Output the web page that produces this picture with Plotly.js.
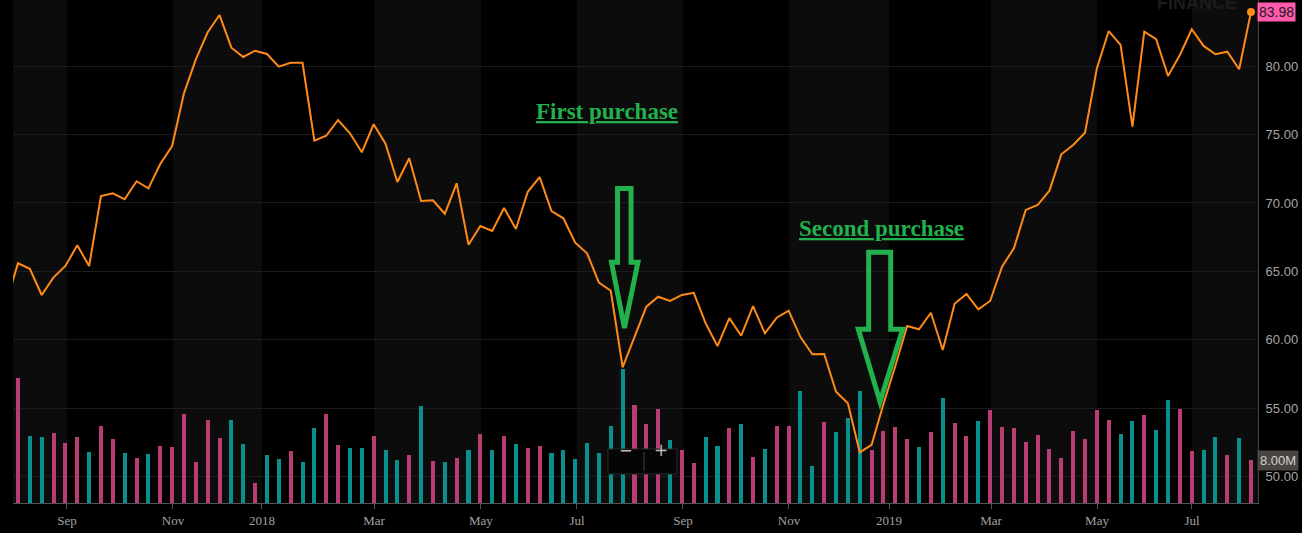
<!DOCTYPE html>
<html><head><meta charset="utf-8">
<script src="https://cdn.plot.ly/plotly-3.0.1.min.js"></script>
<style>html,body{margin:0;padding:0;background:#000;overflow:hidden}#chart{width:1302px;height:533px}</style>
</head><body><div id="chart"></div>
<script>
// weekly closing price; first value is the week before the visible window
const price = [62.66,
 65.59,65.19,63.27,64.56,65.39,66.90,65.39,70.51,70.71,70.27,
 71.59,71.07,72.85,74.17,78.02,80.51,82.49,83.75,81.36,80.68,
 81.14,80.90,79.97,80.26,80.26,74.56,74.92,76.07,75.10,73.71,
 75.76,74.34,71.53,73.27,70.14,70.20,69.21,71.44,66.95,68.31,
 67.95,69.63,68.10,70.82,71.90,69.41,68.88,67.09,66.32,64.17,
 63.58,57.98,60.22,62.41,63.14,62.83,63.27,63.43,61.20,59.53,
 61.58,60.29,62.46,60.46,61.61,62.12,60.19,58.93,58.95,56.19,
 55.34,51.76,52.31,55.29,58.07,61.00,60.76,61.97,59.24,62.63,
 63.34,62.22,62.83,65.34,66.68,69.49,69.85,70.90,73.56,74.24,
 75.14,79.85,82.58,81.56,75.58,82.53,81.98,79.29,80.83,82.71,
 81.49,80.88,81.07,79.78,83.98];
// weekly volume, millions
const volume = [
 23.26,12.47,12.28,13.02,11.16,12.28,9.49,14.33,11.91,9.30,
 8.37,9.12,10.60,10.42,16.56,7.63,15.44,12.09,15.44,10.98,
 3.72,8.93,8.19,9.67,7.63,13.95,16.56,10.79,10.23,10.23,
 12.47,9.86,8.00,8.93,18.05,7.81,7.63,8.37,9.86,12.84,
 9.86,12.47,10.98,10.23,10.60,9.30,9.86,8.19,11.16,9.30,
 14.33,24.93,18.23,14.70,17.49,11.72,9.86,7.44,12.28,10.60,
 13.95,14.70,8.56,10.05,14.33,14.33,20.84,6.88,15.07,13.21,
 15.81,20.84,9.86,13.40,14.14,11.91,10.42,13.21,19.53,14.88,
 12.47,15.26,17.30,14.14,13.95,11.35,12.65,10.05,8.37,13.40,
 11.91,17.30,15.44,12.84,15.26,16.37,13.58,19.16,17.49,9.67,
 9.86,12.28,8.93,12.09,8.00];
// bar direction: u = up week (teal), d = down week (pink)
const volDir = [
 'd','u','u','d','d','d','u','d','d','u',
 'd','u','d','d','d','d','d','d','u','u',
 'd','u','u','d','u','u','d','d','u','u',
 'd','u','u','d','u','d','u','d','u','d',
 'u','d','u','d','d','u','u','u','u','u',
 'u','u','d','d','d','u','d','d','u','u',
 'd','u','d','u','d','d','u','u','d','u',
 'u','u','d','d','d','d','u','d','u','d',
 'd','u','d','d','d','d','d','d','d','d',
 'd','d','d','u','u','d','u','u','d','d',
 'u','u','d','u','d'];
const tickLabels = ['Sep','Nov','2018','Mar','May','Jul','Sep','Nov','2019','Mar','May','Jul'];
const tickPos = [4.13,13.07,20.58,30.03,39.05,47.15,56.09,65.03,73.47,82.07,91.01,99.02];

const X0 = -0.42, X1 = 104.59;
const UP = '#0a8f8f', DOWN = '#b93c74', GREEN = '#22b14c';

const xPrice = price.map((_, i) => i - 1);
const xVol = volume.map((_, i) => i);
const last = price.length - 1;

const traces = [
  { type: 'bar', x: xVol, y: volume, yaxis: 'y', width: 0.34,
    marker: { color: volDir.map(d => d === 'u' ? UP : DOWN), line: { width: 0 } },
    hoverinfo: 'skip', showlegend: false },
  { type: 'scatter', mode: 'lines', x: xPrice, y: price, yaxis: 'y2',
    line: { color: '#ff8a17', width: 2 }, hoverinfo: 'skip', showlegend: false },
  { type: 'scatter', mode: 'markers', x: [xPrice[last]], y: [price[last]], yaxis: 'y2',
    marker: { color: '#ff8a17', size: 8 }, cliponaxis: false, hoverinfo: 'skip', showlegend: false }
];

// alternating month bands
const edges = [X0].concat(tickPos).concat([X1]);
const shapes = [];
for (let k = 0; k < edges.length - 1; k += 2) {
  shapes.push({ type: 'rect', layer: 'below', xref: 'x', yref: 'paper',
    x0: edges[k], x1: edges[k + 1], y0: 0, y1: 1, fillcolor: '#0c0c0c', line: { width: 0 } });
}
function arrowPath(xl, xr, hl, hr, xt, yTop, yHead, yTip) {
  return `M${xl},${yTop} L${xr},${yTop} L${xr},${yHead} L${hr},${yHead} L${xt},${yTip} L${hl},${yHead} L${xl},${yHead} Z`;
}
shapes.push({ type: 'path', xref: 'x', yref: 'y2', layer: 'above',
  path: arrowPath(50.57, 51.71, 50.06, 52.29, 51.15, 71.06, 65.66, 60.85),
  line: { color: GREEN, width: 5 }, fillcolor: 'rgba(0,0,0,0)' });
shapes.push({ type: 'path', xref: 'x', yref: 'y2', layer: 'above',
  path: arrowPath(71.75, 73.61, 70.88, 74.62, 72.71, 66.39, 60.76, 55.46),
  line: { color: GREEN, width: 5 }, fillcolor: 'rgba(0,0,0,0)' });
// zoom control box (pixel-based via paper coords)
const pw = 1302 - 13 - 44, ph = 503;
const px = v => (v - 13) / pw, py = v => 1 - v / ph;
shapes.push({ type: 'rect', xref: 'paper', yref: 'paper', layer: 'above',
  x0: px(608), x1: px(677), y0: py(474), y1: py(449),
  fillcolor: '#050505', line: { color: '#2a2a2a', width: 1 } });
shapes.push({ type: 'line', xref: 'paper', yref: 'paper', layer: 'above',
  x0: px(644), x1: px(644), y0: py(471), y1: py(452), line: { color: '#444', width: 1 } });

const annotations = [
  { xref: 'x', yref: 'y2', x: 49.64, y: 76.66, text: '<b><u>First purchase</u></b>', showarrow: false,
    font: { family: 'Liberation Serif, serif', size: 23, color: GREEN } },
  { xref: 'x', yref: 'y2', x: 72.87, y: 68.10, text: '<b><u>Second purchase</u></b>', showarrow: false,
    font: { family: 'Liberation Serif, serif', size: 23, color: GREEN } },
  { xref: 'paper', yref: 'y2', x: 1, xanchor: 'left', xshift: -1, y: price[last],
    text: price[last].toFixed(2), showarrow: false, bgcolor: '#ff5aac', borderpad: 1,
    font: { family: 'Liberation Sans, Arial, sans-serif', size: 14, color: '#1a1a1a' } },
  { xref: 'paper', yref: 'y', x: 1, xanchor: 'left', xshift: -1, y: volume[volume.length - 1],
    text: volume[volume.length - 1].toFixed(2) + 'M', showarrow: false, bgcolor: '#4a4540', borderpad: 2,
    font: { family: 'Liberation Sans, Arial, sans-serif', size: 13, color: '#d0d0d0' } },
  { xref: 'paper', yref: 'paper', x: px(1197), xanchor: 'center', y: 1, yanchor: 'top', yshift: 9,
    text: '<b>FINANCE</b>', showarrow: false,
    font: { family: 'Liberation Sans, Arial, sans-serif', size: 18, color: '#1c1c1c' } },
  { xref: 'paper', yref: 'paper', x: px(625.5), y: py(461.5), text: '−', showarrow: false,
    font: { family: 'DejaVu Sans, sans-serif', size: 16, color: '#bbbbbb' } },
  { xref: 'paper', yref: 'paper', x: px(661), y: py(461.5), text: '+', showarrow: false,
    font: { family: 'DejaVu Sans, sans-serif', size: 17, color: '#bbbbbb' } }
];

const layout = {
  width: 1302, height: 533,
  margin: { l: 13, r: 44, t: 0, b: 30, pad: 0 },
  paper_bgcolor: '#000', plot_bgcolor: '#000',
  showlegend: false, bargap: 0,
  xaxis: { range: [X0, X1], tickmode: 'array', tickvals: tickPos, ticktext: tickLabels,
    showgrid: false, zeroline: false, showline: true, linecolor: '#555', linewidth: 1,
    ticks: 'outside', ticklen: 5, tickcolor: '#555',
    tickfont: { family: 'Liberation Serif, Times New Roman, serif', size: 13, color: '#a0a0a0' },
    fixedrange: true },
  yaxis: { range: [0, 93.58], visible: false, fixedrange: true },
  yaxis2: { overlaying: 'y', side: 'right', range: [48.05, 84.85],
    tickmode: 'array', tickvals: [50, 55, 60, 65, 70, 75, 80], tickformat: '.2f',
    showgrid: true, gridcolor: '#1c1c1c', zeroline: false,
    showline: true, linecolor: '#444', ticks: '', ticklabelstandoff: 4,
    tickfont: { family: 'Liberation Sans, Arial, sans-serif', size: 13, color: '#a5a5a5' },
    fixedrange: true },
  shapes: shapes,
  annotations: annotations
};

Plotly.newPlot('chart', traces, layout, { displayModeBar: false, staticPlot: true });
</script>
</body></html>
